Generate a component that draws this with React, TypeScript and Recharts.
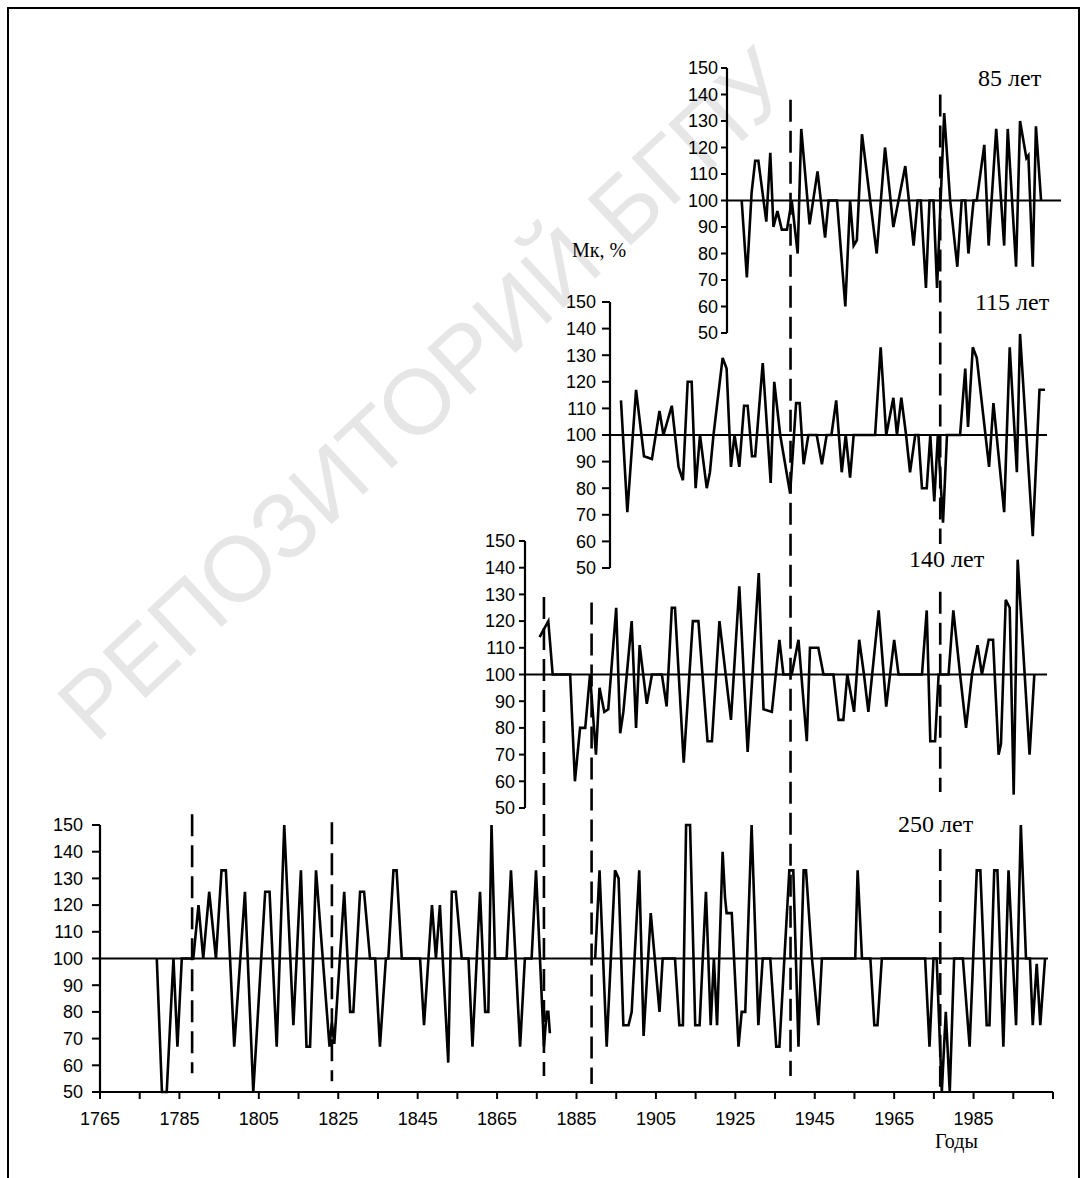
import { Line, LineChart, ReferenceLine, XAxis, YAxis } from 'recharts';

const W = 1084;
const H = 1178;
const INK = '#000';
const SANS = '"Liberation Sans", Arial, sans-serif';
const SERIF = '"Liberation Serif", "Times New Roman", serif';

// Mk, % by year for the four record lengths (null = break in the record)
const P250: [number, number | null][] = [
  [1779.3, 100], [1780.6, 50], [1781.8, 50], [1783.5, 100], [1784.5, 67], [1785.6, 100],
  [1788.5, 100], [1789.8, 120], [1791, 100], [1792.5, 125], [1794.2, 100], [1795.6, 133],
  [1796.7, 133], [1798.8, 67], [1801.5, 125], [1803.6, 50], [1806.6, 125], [1807.7, 125],
  [1809.5, 67], [1811.4, 150], [1813.7, 75], [1815.6, 133], [1817, 67], [1817.9, 67],
  [1819.4, 133], [1822.8, 67], [1823.4, 76], [1824, 68], [1826.5, 125], [1828, 80],
  [1828.8, 80], [1830.5, 125], [1831.5, 125], [1833, 100], [1834.3, 100], [1835.5, 67],
  [1837, 100], [1837.6, 100], [1838.9, 133], [1839.7, 133], [1841, 100], [1845.6, 100],
  [1846.6, 75], [1848.6, 120], [1849.6, 100], [1850.6, 120], [1852.7, 61], [1853.6, 125],
  [1854.6, 125], [1856.1, 100], [1857.8, 100], [1858.8, 67], [1860.7, 125], [1862, 80],
  [1862.8, 80], [1863.6, 150], [1864.5, 100], [1867.4, 100], [1868.5, 133], [1870.8, 67],
  [1872, 100], [1873.7, 100], [1874.8, 133], [1876.8, 67], [1877.5, 80], [1877.9, 80],
  [1878.3, 72], [1884, null], [1889.7, 100], [1890.8, 133], [1892.6, 67], [1894.7, 133],
  [1895.6, 130], [1896.8, 75], [1898.1, 75], [1898.9, 80], [1900.8, 133], [1901.9, 71],
  [1903.7, 117], [1905.9, 80], [1906.7, 100], [1909.8, 100], [1910.9, 75], [1911.8, 75],
  [1912.6, 150], [1913.6, 150], [1914.9, 75], [1916, 75], [1917.6, 125], [1918.8, 75],
  [1919.6, 100], [1920.4, 75], [1921.8, 140], [1922.4, 123], [1922.8, 117], [1924.1, 117],
  [1925.8, 67], [1926.6, 80], [1927.5, 80], [1929.1, 150], [1930.8, 75], [1931.9, 100],
  [1933.8, 100], [1935.3, 67], [1936.1, 67], [1938.6, 133], [1939.6, 133], [1940.9, 67],
  [1942.2, 133], [1942.8, 133], [1944.3, 100], [1945.9, 75], [1946.8, 100], [1955.2, 100],
  [1955.8, 133], [1956.9, 100], [1959, 100], [1960, 75], [1960.8, 75], [1961.9, 100],
  [1972.8, 100], [1973.9, 67], [1974.9, 100], [1975.7, 100], [1977, 50], [1978, 80],
  [1979, 50], [1980.1, 100], [1982.3, 100], [1984, 67], [1985.8, 133], [1986.7, 133],
  [1988.3, 75], [1989, 75], [1990.2, 133], [1991, 133], [1992.5, 67], [1993.8, 133],
  [1995.7, 75], [1996.9, 150], [1998.2, 100], [1999.2, 100], [1999.9, 75], [2000.9, 98],
  [2001.8, 75], [2003, 100],
];

const P140: [number, number][] = [
  [1875.7, 114], [1877.9, 120], [1879, 100], [1883.4, 100], [1884.6, 60], [1885.9, 80],
  [1887.2, 80], [1888.4, 100], [1889.9, 70], [1890.8, 95], [1892, 86], [1893, 87],
  [1895, 125], [1896, 78], [1896.8, 86], [1898.9, 120], [1900, 80], [1900.9, 111],
  [1902.7, 89], [1904, 100], [1906.5, 100], [1907.7, 88], [1909, 125], [1909.8, 125],
  [1912, 67], [1914.3, 120], [1915.7, 120], [1918, 75], [1919.1, 75], [1921, 120],
  [1923.9, 83], [1926, 133], [1928.1, 71], [1930.9, 138], [1932.1, 87], [1934.2, 86],
  [1936.1, 113], [1937.1, 100], [1939.2, 100], [1940.9, 113], [1943, 75], [1943.8, 110],
  [1945.9, 110], [1947.2, 100], [1949.7, 100], [1951, 83], [1952.2, 83], [1953.2, 100],
  [1954.9, 86], [1956.2, 113], [1957.4, 100], [1958.5, 86], [1961.1, 124], [1963, 88],
  [1965, 113], [1966.1, 100], [1972, 100], [1973.2, 124], [1974.1, 75], [1975.3, 75],
  [1976.2, 100], [1978.7, 100], [1979.9, 124], [1981.6, 100], [1983.1, 80], [1984.6, 100],
  [1986, 111], [1987.1, 100], [1988.8, 113], [1989.9, 113], [1991.3, 70], [1991.9, 74],
  [1993.1, 128], [1994.1, 125], [1995.1, 55], [1996.1, 143], [1999.1, 70], [2000.3, 100],
];

const P115: [number, number][] = [
  [1896.2, 113], [1897.8, 71], [1900, 117], [1902, 92], [1904, 91], [1905.9, 109],
  [1906.9, 100], [1909, 111], [1910.7, 88], [1911.8, 83], [1913, 120], [1914, 120],
  [1915, 80], [1916.1, 100], [1917.8, 80], [1918.6, 86], [1919.5, 100], [1921.8, 129],
  [1922.8, 125], [1923.9, 88], [1924.8, 100], [1926, 88], [1927.2, 111], [1928.1, 111],
  [1929.2, 92], [1930, 92], [1931.9, 127], [1933.9, 82], [1934.8, 120], [1936.3, 100],
  [1938.8, 78], [1940.3, 112], [1941.2, 112], [1942.2, 89], [1943.4, 100], [1945.5, 100],
  [1946.8, 89], [1948, 100], [1949.2, 100], [1950.4, 113], [1951.8, 86], [1952.8, 100],
  [1953.9, 84], [1954.8, 100], [1960.2, 100], [1961.6, 133], [1963, 100], [1964.8, 114],
  [1965.7, 100], [1966.8, 114], [1968, 100], [1969, 86], [1970.3, 100], [1971.1, 100],
  [1972, 80], [1973.2, 80], [1974.1, 100], [1975.1, 75], [1976, 100], [1977.3, 67],
  [1978.3, 100], [1981.6, 100], [1982.9, 125], [1983.6, 103], [1984.8, 133], [1985.8, 129],
  [1988.9, 88], [1990, 112], [1992.7, 71], [1994.1, 133], [1995.9, 86], [1996.7, 138],
  [1999.9, 62], [2001.6, 117], [2003, 117],
];

const P85: [number, number][] = [
  [1926.6, 100], [1927.9, 71], [1929.1, 103], [1930, 115], [1930.8, 115], [1932.8, 92],
  [1933.8, 118], [1934.6, 90], [1935.6, 96], [1936.7, 89], [1938, 89], [1939.2, 100],
  [1940.7, 80], [1941.6, 127], [1943.7, 91], [1945.7, 111], [1947.6, 86], [1948.5, 100],
  [1950.6, 100], [1952.7, 60], [1953.9, 100], [1954.8, 83], [1955.6, 85], [1956.9, 125],
  [1960.6, 80], [1962.7, 120], [1964.8, 90], [1967.8, 113], [1969.9, 83], [1970.9, 100],
  [1971.7, 100], [1973, 67], [1973.9, 100], [1974.9, 100], [1975.8, 67], [1977.6, 133],
  [1979.1, 100], [1980.9, 75], [1982, 100], [1982.9, 100], [1983.7, 80], [1985, 100],
  [1985.8, 100], [1987.7, 121], [1988.8, 83], [1990.7, 127], [1992.7, 83], [1993.6, 127],
  [1995.7, 75], [1996.7, 130], [1998.3, 116], [1998.8, 117], [1999.9, 75], [2000.7, 128],
  [2002, 100],
];

const Y_TICKS = [50, 60, 70, 80, 90, 100, 110, 120, 130, 140, 150];
const X_TICKS = Array.from({ length: 25 }, (_, i) => 1765 + i * 10);
const X_LABELS = [1765, 1785, 1805, 1825, 1845, 1865, 1885, 1905, 1925, 1945, 1965, 1985];

// dashed dividers, each as one or more runs: [panel, value] at the top and at the bottom
type End = [string, number];
const DIVIDERS: { year: number; runs: [End, End][] }[] = [
  { year: 1788.2, runs: [[['p250', 154], ['p250', 57]]] },
  { year: 1823.4, runs: [[['p250', 151], ['p250', 54]]] },
  { year: 1876.8, runs: [[['p140', 129], ['p250', 56]]] },
  { year: 1888.8, runs: [[['p140', 127], ['p250', 53]]] },
  { year: 1938.9, runs: [[['p85', 138], ['p250', 56]]] },
  {
    year: 1976.6,
    runs: [
      [['p85', 140], ['p115', 59]],
      [['p140', 131], ['p140', 56]],
      [['p250', 141], ['p250', 52]],
    ],
  },
];

// horizontal layout: 1765 sits on x=100, 2005 on x=1053
const X0 = 100;
const X1 = 1053;
const YEAR0 = 1765;
const YEAR1 = 2005;
const PX_PER_YEAR = (X1 - X0) / (YEAR1 - YEAR0);
const yearAt = (px: number) => YEAR0 + (px - X0) / PX_PER_YEAR;

type Panel = {
  key: string;
  title: string;
  rows: [number, number | null][];
  axisX: number;
  y150: number;
  y50: number;
  tickSize: number;
  tickMargin: number;
  baseEnd: number;
  titleX: number;
  titleY: number;
};

const PANELS: Panel[] = [
  { key: 'p250', title: '250 лет', rows: P250, axisX: 100, y150: 825, y50: 1092, tickSize: 8, tickMargin: 9, baseEnd: 1048, titleX: 898, titleY: 832 },
  { key: 'p140', title: '140 лет', rows: P140, axisX: 525, y150: 541, y50: 808, tickSize: 6, tickMargin: 4, baseEnd: 1047, titleX: 909, titleY: 567 },
  { key: 'p115', title: '115 лет', rows: P115, axisX: 610, y150: 302, y50: 568, tickSize: 8, tickMargin: 6, baseEnd: 1047, titleX: 975, titleY: 310 },
  { key: 'p85', title: '85 лет', rows: P85, axisX: 727, y150: 68, y50: 333, tickSize: 6, tickMargin: 3, baseEnd: 1061, titleX: 978, titleY: 86 },
];

const X_AXIS_H = 50;
const LINE_W = 2.6;

const panelOf = (key: string) => PANELS.find((p) => p.key === key)!;
const unit = (p: Panel) => (p.y50 - p.y150) / 100;

// express a value of one panel in the units of the lowest panel
function liftToBase([key, v]: End) {
  const p = panelOf(key);
  const base = PANELS[0];
  const y = p.y150 + (150 - v) * unit(p);
  return 150 - (y - base.y150) / unit(base);
}

function PanelChart({ panel, isBase }: { panel: Panel; isBase: boolean }) {
  const data = panel.rows.map(([year, v]) => ({ year, v }));
  const start = yearAt(panel.axisX);
  const tick = { fontSize: 18, fill: INK, fontFamily: SANS };

  return (
    <div style={{ position: 'absolute', left: 0, top: 0 }}>
      <LineChart
        width={W}
        height={H}
        data={data}
        margin={{
          top: panel.y150,
          left: panel.axisX - 60,
          right: W - X1,
          bottom: H - panel.y50 - (isBase ? X_AXIS_H : 0),
        }}
      >
        <XAxis
          type="number"
          dataKey="year"
          domain={[start, YEAR1]}
          allowDataOverflow
          hide={!isBase}
          ticks={X_TICKS}
          interval={0}
          height={X_AXIS_H}
          tickSize={7}
          tickMargin={13}
          tick={tick}
          tickFormatter={(v: number) => (X_LABELS.includes(v) ? String(v) : '')}
          axisLine={{ stroke: INK, strokeWidth: 2.2 }}
          tickLine={{ stroke: INK, strokeWidth: 2 }}
        />
        <YAxis
          domain={[50, 150]}
          ticks={Y_TICKS}
          interval={0}
          width={60}
          tickSize={panel.tickSize}
          tickMargin={panel.tickMargin}
          tick={tick}
          axisLine={{ stroke: INK, strokeWidth: 2.2 }}
          tickLine={{ stroke: INK, strokeWidth: 2 }}
        />
        <ReferenceLine
          segment={[
            { x: start, y: 100 },
            { x: yearAt(panel.baseEnd), y: 100 },
          ]}
          stroke={INK}
          strokeWidth={2}
          ifOverflow="visible"
        />
        {isBase &&
          DIVIDERS.flatMap((d) =>
            d.runs.map(([top, bottom], i) => (
              <ReferenceLine
                key={`${d.year}-${i}`}
                segment={[
                  { x: d.year, y: liftToBase(top) },
                  { x: d.year, y: liftToBase(bottom) },
                ]}
                stroke={INK}
                strokeWidth={2.6}
                strokeDasharray="22 9"
                ifOverflow="visible"
              />
            )),
          )}
        <Line
          type="linear"
          dataKey="v"
          stroke={INK}
          strokeWidth={LINE_W}
          strokeLinejoin="miter"
          dot={false}
          activeDot={false}
          connectNulls={false}
          isAnimationActive={false}
        />
      </LineChart>
    </div>
  );
}

export default function App() {
  return (
    <div style={{ position: 'relative', width: W, height: H, overflow: 'hidden', background: '#fff' }}>
      <style>{'body{margin:0;overflow:hidden}'}</style>
      <svg width={W} height={H} style={{ position: 'absolute', left: 0, top: 0 }}>
        <text
          x={95}
          y={745}
          transform="rotate(-43 95 745)"
          fontFamily={SANS}
          fontSize={92}
          fill="#e6e6e6"
        >
          РЕПОЗИТОРИЙ БГПУ
        </text>
        <path d={`M8 ${H} V8 H1079 V${H}`} fill="none" stroke={INK} strokeWidth={2} />
        {PANELS.map((p) => (
          <text key={p.key} x={p.titleX} y={p.titleY} fontFamily={SERIF} fontSize={24} fill={INK}>
            {p.title}
          </text>
        ))}
        <text x={572} y={257} fontFamily={SERIF} fontSize={20} fill={INK}>
          Мк, %
        </text>
        <text x={935} y={1148} fontFamily={SERIF} fontSize={20} fill={INK}>
          Годы
        </text>
      </svg>
      {PANELS.map((p, i) => (
        <PanelChart key={p.key} panel={p} isBase={i === 0} />
      ))}
    </div>
  );
}
